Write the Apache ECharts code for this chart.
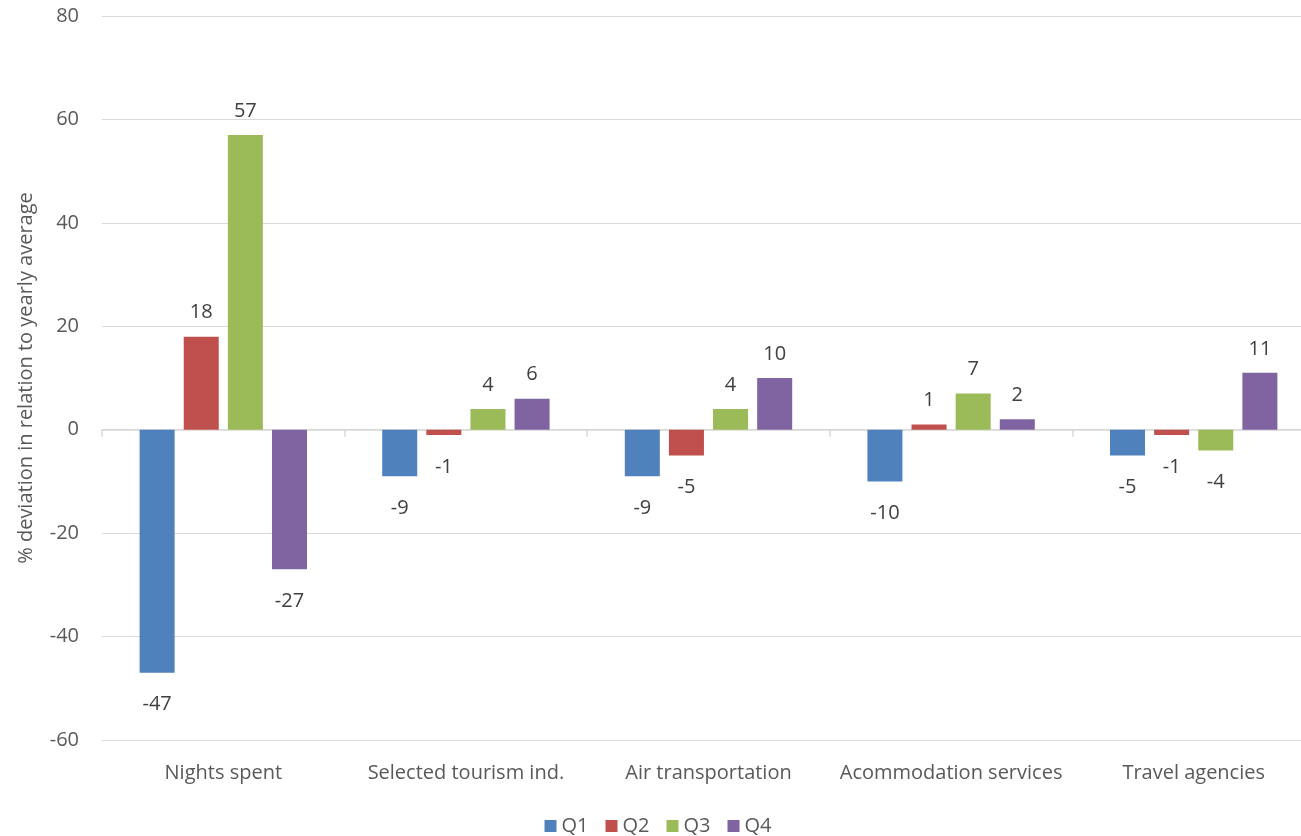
<!DOCTYPE html>
<html><head><meta charset="utf-8">
<script src="https://cdn.jsdelivr.net/npm/echarts@6/dist/echarts.min.js"></script>
<style>html,body{margin:0;padding:0;background:#fff;overflow:hidden}#c{width:1316px;height:836px}</style>
</head><body><div id="c"></div>
<script>
const categories = ['Nights spent','Selected tourism ind.','Air transportation','Acommodation services','Travel agencies'];
const seriesNames = ['Q1','Q2','Q3','Q4'];
const q1 = [-47, -9, -9, -10, -5];
const q2 = [18, -1, -5, 1, -1];
const q3 = [57, 4, 4, 7, -4];
const q4 = [-27, 6, 10, 2, 11];
const yTicks = {min: -60, max: 80, interval: 20};
const colors = ['#4f81bd','#c0504d','#9bbb59','#8064a2'];
const FONT = '"Open Sans", sans-serif';
const FS = 20;
const chart = echarts.init(document.getElementById('c'));
function mk(name, vals, i) {
  return {
    name, type: 'bar', xAxisIndex: 0,
    barGap: '26%', barCategoryGap: '31%',
    itemStyle: {color: colors[i]},
    data: vals.map(v => ({value: v, label: {position: v < 0 ? 'bottom' : 'top', distance: v < 0 ? 22 : 14}})),
    label: {show: true, color: '#404040', fontSize: FS, fontFamily: FONT}
  };
}
chart.setOption({
  animation: false,
  color: colors,
  textStyle: {fontFamily: FONT},
  grid: {left: 102, right: 1, top: 16, bottom: 96, containLabel: false},
  legend: {
    top: 811, left: 'center', itemWidth: 12, itemHeight: 12, itemGap: 17,
    icon: 'rect', textStyle: {color: '#595959', fontSize: FS, fontFamily: FONT},
    data: seriesNames
  },
  xAxis: [
    {type: 'category', data: categories, position: 'bottom',
     axisLine: {show: false, onZero: false}, axisTick: {show: false},
     axisLabel: {color: '#595959', fontSize: FS, fontFamily: FONT, margin: 23, interval: 0}},
    {type: 'category', data: categories, position: 'bottom',
     axisLine: {show: true, onZero: true, lineStyle: {color: '#d9d9d9', width: 1.5}},
     axisTick: {show: true, length: 7, lineStyle: {color: '#d9d9d9', width: 1.5}},
     axisLabel: {show: false}}
  ],
  yAxis: {
    type: 'value', min: yTicks.min, max: yTicks.max, interval: yTicks.interval,
    name: '% deviation in relation to yearly average', nameLocation: 'middle', nameGap: 66,
    nameTextStyle: {color: '#595959', fontSize: FS, fontFamily: FONT},
    axisLine: {show: false}, axisTick: {show: false},
    axisLabel: {color: '#595959', fontSize: FS, fontFamily: FONT, margin: 23},
    splitLine: {lineStyle: {color: '#d9d9d9', width: 1.2}}
  },
  series: [mk('Q1', q1, 0), mk('Q2', q2, 1), mk('Q3', q3, 2), mk('Q4', q4, 3)]
});
</script></body></html>
